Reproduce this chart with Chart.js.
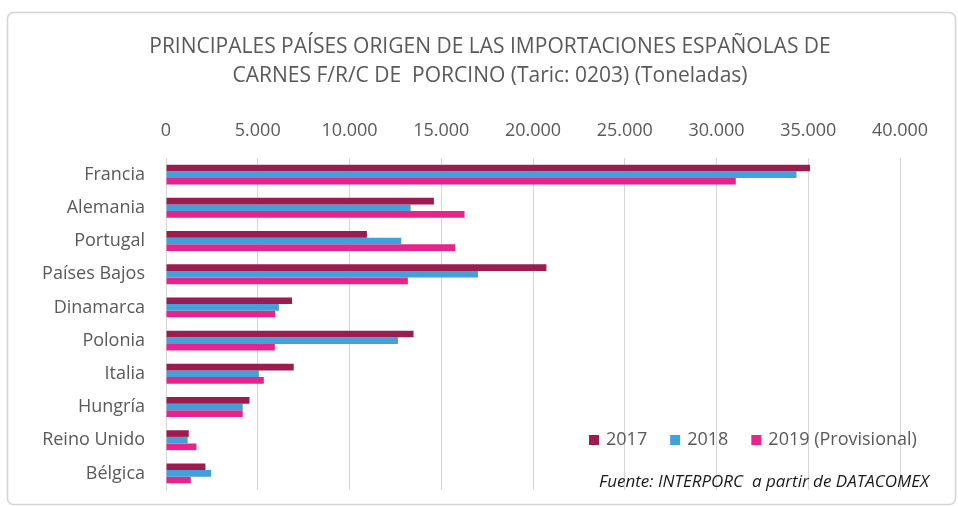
<!DOCTYPE html>
<html>
<head>
<meta charset="utf-8">
<script src="https://cdn.jsdelivr.net/npm/chart.js@4/dist/chart.umd.min.js"></script>
<style>
  html, body { margin: 0; padding: 0; background: #fff; }
  #wrap { width: 958px; height: 506px; }
</style>
</head>
<body>
<div id="wrap"><canvas id="myChart" width="958" height="506"></canvas></div>
<script>
// Importaciones por país de origen (toneladas)
const paises = ['Francia', 'Alemania', 'Portugal', 'Países Bajos', 'Dinamarca',
  'Polonia', 'Italia', 'Hungría', 'Reino Unido', 'Bélgica'];
const datos2017 = [35100, 14600, 10950, 20730, 6870, 13490, 6960, 4550, 1240, 2150];
const datos2018 = [34360, 13330, 12820, 17000, 6150, 12640, 5060, 4180, 1180, 2460];
const datos2019 = [31050, 16270, 15760, 13180, 5950, 5930, 5330, 4180, 1660, 1350];
const etiquetasSeries = ['2017', '2018', '2019 (Provisional)'];
const tituloLineas = ['PRINCIPALES PAÍSES ORIGEN DE LAS IMPORTACIONES ESPAÑOLAS DE',
  'CARNES F/R/C DE  PORCINO (Taric: 0203) (Toneladas)'];
const fuente = 'Fuente: INTERPORC  a partir de DATACOMEX';

const colores = ['#9c1c4f', '#42a1da', '#e8248c'];
const gris = '#595959';
const fuenteTexto = '"Open Sans", Lato, sans-serif';

function miles(v) {
  return String(v).replace(/\B(?=(\d{3})+(?!\d))/g, '.');
}

// marco, título, leyenda y fuente
const extras = {
  id: 'extras',
  beforeDraw(chart) {
    const ctx = chart.ctx;
    ctx.save();
    ctx.strokeStyle = '#d4d4d4';
    ctx.lineWidth = 1.5;
    ctx.beginPath();
    ctx.roundRect(7.5, 12.5, 948, 492, 6);
    ctx.stroke();
    ctx.restore();
  },
  afterDraw(chart) {
    const ctx = chart.ctx;
    ctx.save();
    ctx.fillStyle = gris;
    ctx.textAlign = 'center';
    ctx.textBaseline = 'middle';
    ctx.font = '21px ' + fuenteTexto;
    ctx.fillText(tituloLineas[0], 490, 47);
    ctx.fillText(tituloLineas[1], 490, 76);

    // leyenda
    ctx.font = '18px ' + fuenteTexto;
    ctx.textAlign = 'left';
    let x = 589;
    const y = 440;
    chart.data.datasets.forEach((ds, i) => {
      ctx.fillStyle = ds.backgroundColor;
      ctx.fillRect(x, y - 5, 10, 10);
      ctx.fillStyle = gris;
      ctx.fillText(ds.label, x + 17, y);
      x += 17 + ctx.measureText(ds.label).width + 23;
    });

    ctx.fillStyle = '#1a1a1a';
    ctx.font = 'italic 17px ' + fuenteTexto;
    ctx.fillText(fuente, 599, 482);
    ctx.restore();
  }
};

const ctx = document.getElementById('myChart').getContext('2d');
new Chart(ctx, {
  type: 'bar',
  data: {
    labels: paises,
    datasets: [
      { label: etiquetasSeries[0], data: datos2017, backgroundColor: colores[0] },
      { label: etiquetasSeries[1], data: datos2018, backgroundColor: colores[1] },
      { label: etiquetasSeries[2], data: datos2019, backgroundColor: colores[2] }
    ]
  },
  options: {
    indexAxis: 'y',
    responsive: false,
    animation: false,
    categoryPercentage: 0.6,
    barPercentage: 1,
    layout: { padding: { top: 110, right: 58, bottom: 16, left: 0 } },
    plugins: {
      legend: { display: false },
      title: { display: false },
      tooltip: { enabled: false }
    },
    scales: {
      x: {
        position: 'top',
        min: 0,
        max: 40000,
        afterFit(s) { s.height = 48; },
        ticks: {
          stepSize: 5000,
          padding: 16,
          color: gris,
          font: { family: fuenteTexto, size: 18 },
          callback: v => miles(v)
        },
        grid: { color: '#d6d6d6', drawTicks: false },
        border: { display: false }
      },
      y: {
        afterFit(s) {
          s.width = 166;
          // sin relleno extra arriba/abajo por las etiquetas
          s.paddingTop = 0;
          s.paddingBottom = 0;
        },
        ticks: {
          padding: 21,
          color: gris,
          font: { family: fuenteTexto, size: 18 }
        },
        grid: { display: false, drawTicks: false },
        border: { color: '#d6d6d6' }
      }
    }
  },
  plugins: [extras]
});
</script>
</body>
</html>
